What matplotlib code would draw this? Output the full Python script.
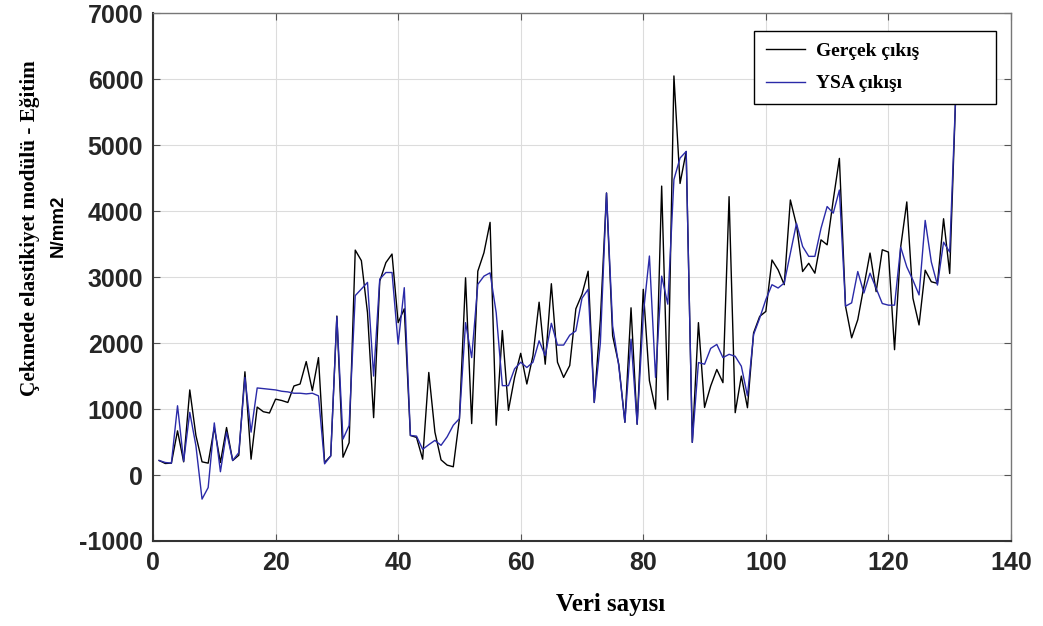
import matplotlib
matplotlib.use("Agg")
import matplotlib.pyplot as plt
import numpy as np

plt.rcParams["axes.unicode_minus"] = False

# values (index 1..131)
gercek = [220, 175, 180, 670, 200, 1290, 600, 200, 180, 720,
          190, 720, 220, 300, 1565, 240, 1030, 960, 940, 1150,
          1130, 1100, 1350, 1380, 1720, 1280, 1780, 190, 290, 2410,
          270, 490, 3410, 3250, 2460, 870, 2940, 3220, 3350, 2310,
          2520, 600, 570, 240, 1555, 650, 230, 150, 125, 855,
          2990, 780, 3090, 3370, 3830, 755, 2190, 980, 1480, 1845,
          1380, 1810, 2620, 1680, 2900, 1710, 1480, 1660, 2520, 2740,
          3090, 1100, 2360, 4275, 2110, 1680, 800, 2535, 770, 2815,
          1430, 1000, 4380, 1140, 6050, 4420, 4905, 495, 2310, 1025,
          1350, 1600, 1400, 4220, 945, 1500, 1020, 2155, 2405, 2480,
          3260, 3110, 2885, 4170, 3790, 3085, 3210, 3060, 3565, 3490,
          4170, 4800, 2560, 2080, 2355, 2860, 3365, 2780, 3415, 3380,
          1900, 3455, 4140, 2680, 2275, 3105, 2930, 2905, 3885, 3055,
          5800]
ysa = [220, 190, 180, 1050, 210, 950, 445, -365, -190, 790,
       50, 650, 220, 340, 1480, 650, 1320, 1310, 1300, 1290,
       1270, 1260, 1240, 1240, 1230, 1240, 1200, 170, 290, 2400,
       545, 750, 2720, 2820, 2920, 1500, 2970, 3070, 3070, 1985,
       2840, 600, 590, 390, 460, 525, 450, 580, 755, 855,
       2310, 1780, 2890, 3015, 3065, 2460, 1355, 1355, 1610, 1710,
       1630, 1710, 2035, 1810, 2300, 1970, 1970, 2120, 2185, 2680,
       2815, 1100, 2005, 4275, 2260, 1655, 800, 2060, 770, 2435,
       3320, 1480, 3015, 2590, 4480, 4805, 4905, 495, 1705, 1680,
       1920, 1980, 1780, 1830, 1800, 1650, 1200, 2130, 2380, 2660,
       2885, 2835, 2910, 3365, 3815, 3465, 3315, 3315, 3740, 4070,
       3970, 4320, 2560, 2610, 3085, 2760, 3060, 2830, 2600, 2575,
       2575, 3455, 3155, 2955, 2730, 3860, 3230, 2880, 3530, 3380,
       5800]
veri = np.arange(1, len(gercek) + 1)

xticks = list(range(0, 141, 20))
yticks = list(range(-1000, 7001, 1000))

fig = plt.figure(figsize=(10.43, 6.26), dpi=100)
ax = fig.add_axes([0.1467, 0.1358, 0.8226, 0.843])

ax.plot(veri, gercek, color="black", lw=1.0, label="Gerçek çıkış")
ax.plot(veri, ysa, color="#2a2aa8", lw=1.0, label="YSA çıkışı")

ax.set_xlim(0, 140)
ax.set_ylim(-1000, 7000)
ax.set_xticks(xticks)
ax.set_yticks(yticks)
ax.grid(True, color="#dcdcdc", lw=0.8)
ax.set_axisbelow(True)
ax.tick_params(direction="in", length=5, top=True, right=True, colors="#555555",
               labelcolor="#262626", pad=7)
for lab in ax.get_xticklabels() + ax.get_yticklabels():
    lab.set_fontfamily("Liberation Sans")
    lab.set_fontweight("bold")
    lab.set_fontsize(18)
for s in ax.spines.values():
    s.set_color("#777777")
    s.set_linewidth(1.0)
for side in ("left", "bottom"):
    ax.spines[side].set_color("#333333")
    ax.spines[side].set_linewidth(1.5)

# axis titles placed as in the reference
fig.text(0.585, 0.034, "Veri sayısı", ha="center", va="center",
         family="Liberation Serif", fontweight="bold", fontsize=18)
fig.text(0.029, 0.636, "Çekmede elastikiyet modülü - Eğitim", rotation=90,
         ha="center", va="center", family="Liberation Serif", fontweight="bold",
         fontsize=15.3)
fig.text(0.056, 0.639, "N/mm2", rotation=90, ha="center", va="center",
         family="Liberation Sans", fontweight="bold", fontsize=13.5)

leg = ax.legend(loc="upper left", bbox_to_anchor=(0.7005, 0.7, 0.282, 0.2665),
                mode="expand", borderaxespad=0,
                fancybox=False, edgecolor="black", framealpha=1,
                prop={"family": "Liberation Serif", "weight": "bold", "size": 14},
                handlelength=2.0, handletextpad=0.6, labelspacing=0.75,
                borderpad=0.6)
leg.get_frame().set_linewidth(1.0)

fig.savefig("out.png", dpi=100)
